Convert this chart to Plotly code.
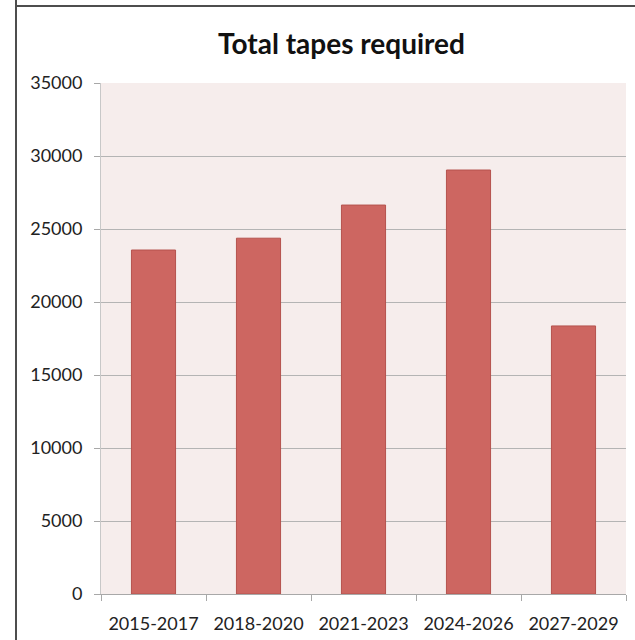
import plotly.graph_objects as go

categories = ["2015-2017", "2018-2020", "2021-2023", "2024-2026", "2027-2029"]
tapes = [23560, 24370, 26640, 29040, 18360]
y_ticks = [0, 5000, 10000, 15000, 20000, 25000, 30000, 35000]

W, H = 635, 640
L, R, T, B = 101, 9, 83, 46
pw, ph = W - L - R, H - T - B

def px_x(p):
    return (p - L) / pw

def px_y(p):
    return (H - B - p) / ph

fig = go.Figure(go.Bar(
    x=categories, y=tapes, width=0.42,
    marker=dict(color="#CD6661", line=dict(color="#B5524E", width=1)),
))

fig.update_layout(
    width=W, height=H,
    margin=dict(l=L, r=R, t=T, b=B, autoexpand=False),
    paper_bgcolor="white",
    plot_bgcolor="#F6EDEC",
    showlegend=False,
    title=dict(text="<b>Total tapes required</b>", x=341.5 / W, xanchor="center",
               y=1 - 44 / H, yanchor="middle",
               font=dict(family="Lato", size=28, color="#111111")),
    font=dict(family="Lato", color="#222222"),
    shapes=[
        dict(type="line", xref="paper", yref="paper", x0=px_x(16), x1=px_x(16),
             y0=px_y(H + 5), y1=px_y(-5), line=dict(color="#4d4d4d", width=2)),
        dict(type="line", xref="paper", yref="paper", x0=px_x(16), x1=px_x(W + 5),
             y0=px_y(6), y1=px_y(6), line=dict(color="#4d4d4d", width=2)),
    ],
)

fig.update_yaxes(
    range=[0, 35000], tickvals=y_ticks, ticktext=[str(v) for v in y_ticks],
    showgrid=True, gridcolor="#B4B4B4", gridwidth=1,
    showline=True, linecolor="#C8C8C8", linewidth=1,
    ticks="outside", ticklen=6, tickcolor="#A8A8A8",
    tickfont=dict(family="Lato", size=18, color="#222222"),
    zeroline=False, fixedrange=True, ticklabelstandoff=8, automargin=False,
)
fig.update_xaxes(
    type="category", tickson="boundaries",
    showline=True, linecolor="#A8A8A8", linewidth=1,
    ticks="outside", ticklen=6, tickcolor="#A8A8A8",
    tickfont=dict(family="Lato", size=18, color="#222222"),
    showgrid=False, fixedrange=True, ticklabelstandoff=13, automargin=False,
)

fig.write_html("out.html")
